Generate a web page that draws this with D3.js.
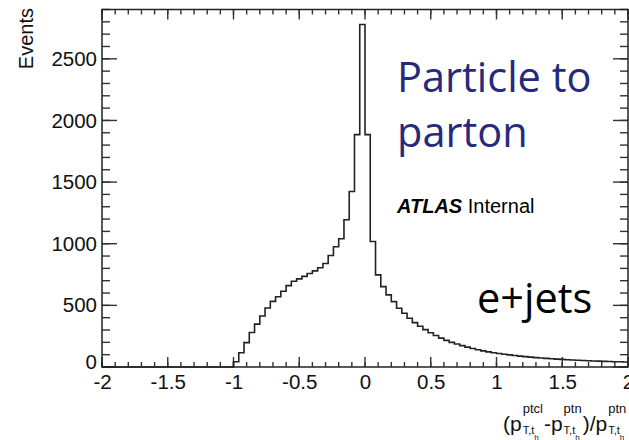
<!DOCTYPE html>
<html>
<head>
<meta charset="utf-8">
<script src="https://cdn.jsdelivr.net/npm/d3@7"></script>
<style>
  body { margin: 0; background: #fff; }
  svg { display: block; }
  .tick text { font-family: "Liberation Sans", Arial, sans-serif; font-size: 20.5px; fill: #111; }
  .axis path { display: none; }
</style>
</head>
<body>
<svg id="chart" width="629" height="440"></svg>
<script>
// Histogram range and bin width (100 bins from -2 to 2)
const xDomain = [-2, 2];
const binWidth = 0.04;

// Events per bin, left to right
const binCounts = [
  0, 0, 0, 0, 0, 0, 0, 0, 0, 0, 0, 0, 0, 0, 0, 0, 0, 0, 0, 0, 0, 0, 0, 0, 0,
  42, 116, 198, 280, 348, 414, 478, 532, 570, 615, 660, 695, 715, 735, 758,
  780, 805, 840, 905, 975, 1040, 1194, 1424, 1885, 2778,
  1885, 1018, 747, 652, 585, 530, 476, 436, 396, 360, 330, 303, 278, 255, 234,
  216, 200, 186, 173, 161, 150, 140, 131, 123, 116,
  109, 103, 98, 93, 88, 84, 80, 76, 73, 70, 67, 64, 62, 59, 57,
  55, 53, 51, 49, 48, 46, 45, 43, 42, 41
];

const xTickLabels = [-2, -1.5, -1, -0.5, 0, 0.5, 1, 1.5, 2];
const yTickLabels = [0, 500, 1000, 1500, 2000, 2500];
const yMax = 2900;

const svg = d3.select('#chart');
const plot = {left: 102, right: 628, top: 9.5, bottom: 367};

let x = d3.scaleLinear().domain(xDomain).range([plot.left, plot.right]);
let y = d3.scaleLinear().domain([0, yMax]).range([plot.bottom, plot.top]);

// minor tick positions
let xMinor = d3.range(-20, 21).map(i => i / 10);
let yMinor = d3.range(0, 30).map(i => i * 100);

// inward ticks on all four sides, drawn from the scales
function xTicks(values, len) {
  [[plot.bottom, -len], [plot.top, len]].forEach(([y0, d]) => {
    svg.append('g').selectAll('line').data(values).join('line')
        .attr('x1', v => x(v)).attr('x2', v => x(v))
        .attr('y1', y0).attr('y2', y0 + d)
        .attr('stroke', '#333').attr('stroke-width', 1.4);
  });
}
function yTicks(values, len) {
  [[plot.left, len], [plot.right, -len]].forEach(([x0, d]) => {
    svg.append('g').selectAll('line').data(values).join('line')
        .attr('y1', v => y(v)).attr('y2', v => y(v))
        .attr('x1', x0).attr('x2', x0 + d)
        .attr('stroke', '#333').attr('stroke-width', 1.4);
  });
}
xTicks(xMinor, 5);
xTicks(xTickLabels, 10);
yTicks(yMinor, 8);
yTicks(yTickLabels, 15);

// tick labels
let xAx = svg.append('g').attr('class', 'axis')
    .attr('transform', `translate(0,${plot.bottom})`)
    .call(d3.axisBottom(x).tickValues(xTickLabels).tickSize(0).tickPadding(14)
        .tickFormat(d => d));
xAx.selectAll('line').remove();
xAx.selectAll('text').attr('dy', '0.4em');

let yAx = svg.append('g').attr('class', 'axis')
    .attr('transform', `translate(${plot.left},0)`)
    .call(d3.axisLeft(y).tickValues(yTickLabels).tickSize(0).tickPadding(5)
        .tickFormat(d => d));
yAx.selectAll('line').remove();
yAx.selectAll('.tick').filter(d => d === 0).select('text').attr('dy', '0.05em');

// frame
svg.append('rect')
    .attr('x', plot.left).attr('y', plot.top)
    .attr('width', plot.right - plot.left).attr('height', plot.bottom - plot.top)
    .attr('fill', 'none').attr('stroke', '#222').attr('stroke-width', 1.5);

// histogram outline
let pts = [[x(xDomain[0]), y(0)]];
binCounts.forEach((c, i) => {
  let lo = xDomain[0] + i * binWidth;
  pts.push([x(lo), y(c)]);
  pts.push([x(lo + binWidth), y(c)]);
});
svg.append('path')
    .attr('d', d3.line()(pts))
    .attr('fill', 'none')
    .attr('stroke', '#222')
    .attr('stroke-width', 1.6);

// y title
svg.append('text')
    .attr('transform', 'translate(33,8) rotate(-90)')
    .attr('text-anchor', 'end')
    .style('font-family', '"Liberation Sans", Arial, sans-serif')
    .style('font-size', '20px')
    .attr('fill', '#111')
    .text('Events');

// x title: (p^ptcl_{T,t_h} - p^ptn_{T,t_h}) / p^ptn_{T,t_h}
let xt = svg.append('g').style('font-family', '"Liberation Sans", Arial, sans-serif').attr('fill', '#111');
let cx = 503;
const titleParts = [['(p', 'ptcl'], ['-p', 'ptn'], [')/p', 'ptn']];
titleParts.forEach(([main, sup]) => {
  let m = xt.append('text').attr('x', cx).attr('y', 431).style('font-size', '21px').text(main);
  cx += m.node().getComputedTextLength() + 1;
  let s = xt.append('text').attr('x', cx).attr('y', 413).style('font-size', '13px').text(sup);
  let b = xt.append('text').attr('x', cx).attr('y', 434).style('font-size', '11px').text('T,t');
  let bw = b.node().getComputedTextLength();
  xt.append('text').attr('x', cx + bw).attr('y', 440).style('font-size', '8px').text('h');
  cx += Math.max(s.node().getComputedTextLength(), bw + 5) + 1;
});

// annotations
const navy = '#272a7c';
const bigFont = '"Open Sans", "DejaVu Sans", sans-serif';
svg.append('text').attr('x', 397).attr('y', 92)
    .style('font-family', bigFont).style('font-size', '41.5px').attr('fill', navy)
    .text('Particle to');
svg.append('text').attr('x', 397).attr('y', 147)
    .style('font-family', bigFont).style('font-size', '41.5px').attr('fill', navy)
    .text('parton');

let atlas = svg.append('text').attr('x', 397).attr('y', 213)
    .style('font-family', '"Liberation Sans", Arial, sans-serif').style('font-size', '20px')
    .attr('fill', '#000');
atlas.append('tspan').style('font-weight', 'bold').style('font-style', 'italic').text('ATLAS');
atlas.append('tspan').text(' Internal');

svg.append('text').attr('x', 477).attr('y', 313)
    .style('font-family', bigFont).style('font-size', '41.5px').attr('fill', '#000')
    .text('e+jets');
</script>
</body>
</html>
